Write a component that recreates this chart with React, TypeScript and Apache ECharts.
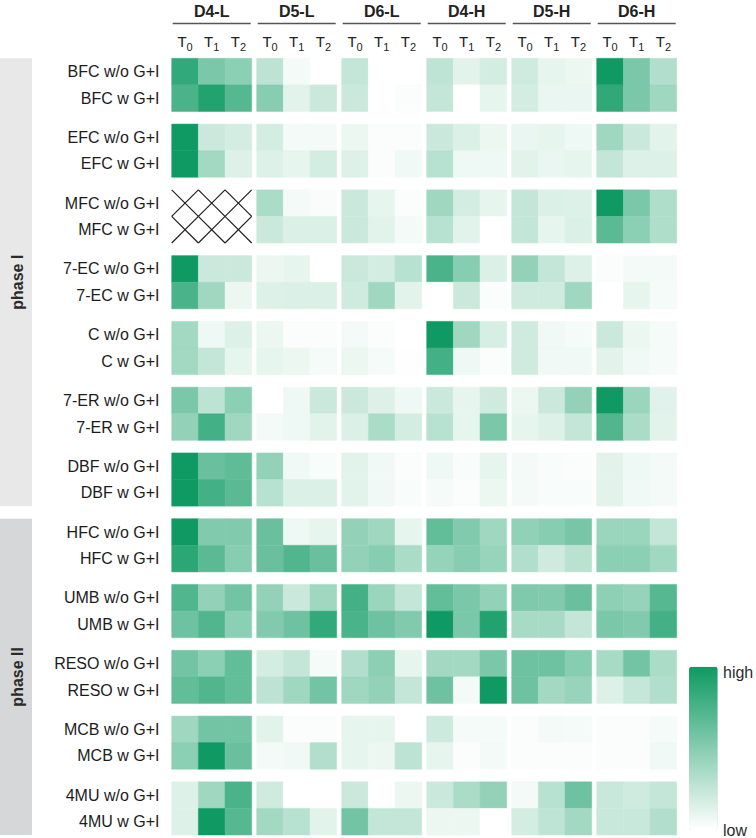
import React, { useEffect, useRef } from 'react';
import * as echarts from 'echarts';

// ---------- data ----------
const compounds = ['BFC', 'EFC', 'MFC', '7-EC', 'C', '7-ER', 'DBF', 'HFC', 'UMB', 'RESO', 'MCB', '4MU'];
const conditions = ['w/o G+I', 'w G+I'];
const phases = ['phase I', 'phase II'];
const phaseGroupCounts = [7, 5];
const periods = ['D4-L', 'D5-L', 'D6-L', 'D4-H', 'D5-H', 'D6-H'];
const timePoints = ['0', '1', '2'];
const legendLabels = ['high', 'low'];

// relative intensity (0 = low, 100 = high); rows: [w/o G+I, w G+I]
// columns: D4-L T0..T2, D5-L, D6-L, D4-H, D5-H, D6-H ; null = not measured
const BFC = [
  [85, 55, 48, 28, 5, 0, 25, 0, 0, 27, 12, 18, 20, 10, 8, 100, 55, 32],
  [75, 92, 70, 50, 12, 22, 22, 0, 2, 25, 0, 10, 18, 9, 9, 86, 55, 40],
];
const EFC = [
  [100, 22, 18, 18, 5, 5, 8, 2, 2, 22, 15, 8, 9, 10, 7, 40, 22, 12],
  [100, 38, 14, 14, 10, 18, 14, 2, 6, 30, 7, 7, 12, 9, 10, 25, 14, 14],
];
const MFC = [
  [null, null, null, 35, 5, 3, 22, 10, 2, 40, 18, 10, 25, 15, 14, 100, 55, 33],
  [null, null, null, 22, 15, 15, 22, 12, 5, 30, 12, 0, 25, 10, 15, 68, 48, 33],
];
const EC7 = [
  [100, 22, 22, 8, 10, 0, 22, 18, 30, 75, 50, 15, 45, 25, 14, 2, 5, 5],
  [75, 40, 8, 14, 15, 15, 20, 40, 12, 0, 22, 2, 20, 20, 40, 0, 10, 4],
];
const C = [
  [38, 7, 14, 8, 2, 2, 5, 2, 0, 100, 40, 17, 20, 6, 4, 22, 8, 4],
  [38, 25, 10, 10, 8, 4, 8, 4, 1, 78, 7, 2, 20, 6, 6, 12, 6, 4],
];
const ER7 = [
  [55, 28, 48, 0, 7, 22, 22, 14, 7, 22, 10, 20, 8, 22, 45, 100, 42, 13],
  [45, 78, 40, 5, 7, 12, 15, 35, 18, 30, 10, 55, 10, 14, 25, 72, 35, 12],
];
const DBF = [
  [100, 62, 66, 45, 6, 3, 12, 6, 2, 7, 3, 10, 5, 3, 2, 12, 7, 5],
  [100, 78, 68, 30, 15, 15, 12, 6, 3, 4, 2, 8, 5, 3, 3, 12, 6, 5],
];
const HFC = [
  [100, 52, 52, 62, 7, 10, 45, 40, 10, 65, 52, 40, 46, 50, 56, 42, 42, 25],
  [88, 68, 50, 62, 72, 62, 45, 50, 35, 44, 50, 43, 32, 20, 29, 48, 48, 39],
];
const UMB = [
  [72, 45, 58, 45, 22, 40, 78, 42, 25, 65, 55, 45, 53, 52, 62, 47, 44, 70],
  [60, 72, 48, 52, 60, 85, 75, 60, 52, 100, 55, 92, 36, 36, 25, 55, 52, 78],
];
const RESO = [
  [58, 48, 65, 18, 25, 4, 32, 48, 10, 38, 38, 55, 60, 60, 50, 36, 58, 35],
  [65, 72, 65, 28, 40, 58, 40, 45, 25, 60, 5, 100, 60, 38, 43, 14, 24, 32],
];
const MCB = [
  [40, 58, 58, 12, 2, 2, 10, 10, 0, 21, 4, 4, 2, 5, 4, 2, 2, 4],
  [48, 100, 62, 5, 6, 32, 10, 8, 28, 10, 2, 5, 2, 2, 2, 2, 2, 6],
];
const MU4 = [
  [14, 40, 75, 20, 0, 0, 22, 0, 8, 22, 35, 45, 5, 30, 60, 23, 20, 25],
  [14, 100, 70, 38, 30, 12, 58, 25, 25, 8, 8, 0, 18, 27, 38, 23, 23, 32],
];
const compoundValues = [BFC, EFC, MFC, EC7, C, ER7, DBF, HFC, UMB, RESO, MCB, MU4];

// ---------- layout ----------
const FONT = '"Liberation Sans", Arial, Helvetica, sans-serif';
const GRID = { left: 171.7, top: 58.3, width: 505, height: 776.7 };
const GAP_X = 0.1875; // gap between period blocks, in cell widths
const GAP_Y = 0.4737; // gap between compound blocks, in cell heights
const NCOL = periods.length * timePoints.length;
const NROW = compounds.length * conditions.length;
const X_MAX = NCOL + (periods.length - 1) * GAP_X;
const Y_MAX = NROW + (compounds.length - 1) * GAP_Y;
const UX = GRID.width / X_MAX;
const UY = GRID.height / Y_MAX;
const colStart = (c: number) => Math.floor(c / 3) * (3 + GAP_X) + (c % 3);
const rowStart = (r: number) => Math.floor(r / 2) * (2 + GAP_Y) + (r % 2);
const px = (u: number) => GRID.left + u * UX;
const py = (u: number) => GRID.top + u * UY;

function buildOption() {
  const cells: number[][] = [];
  const missing: number[][] = [];
  compoundValues.forEach((rows, g) => {
    rows.forEach((vals, k) => {
      const r = g * 2 + k;
      vals.forEach((v, c) => {
        if (v === null) missing.push([c, r]);
        else cells.push([c, r, v as number]);
      });
    });
  });

  const graphics: any[] = [];

  // phase bands
  let gStart = 0;
  phases.forEach((name, i) => {
    const gEnd = gStart + phaseGroupCounts[i];
    const y0 = py(rowStart(gStart * 2));
    const y1 = py(rowStart(gEnd * 2 - 1) + 1);
    graphics.push({
      type: 'rect',
      shape: { x: 0, y: y0, width: 32, height: y1 - y0 },
      style: { fill: i === 0 ? '#e8e8e8' : '#d5d7d9' },
      silent: true,
    });
    graphics.push({
      type: 'text',
      x: 17.5,
      y: (y0 + y1) / 2,
      rotation: Math.PI / 2,
      style: {
        text: name,
        fontSize: 16,
        fontWeight: 'bold',
        fontFamily: FONT,
        fill: '#2b2b2b',
        align: 'center',
        verticalAlign: 'middle',
      },
      silent: true,
    });
    gStart = gEnd;
  });

  // row labels
  compounds.forEach((cmp, g) => {
    conditions.forEach((cond, k) => {
      const r = g * 2 + k;
      graphics.push({
        type: 'text',
        x: 159.5,
        y: py(rowStart(r) + 0.5),
        style: {
          text: `${cmp} ${cond}`,
          fontSize: 16,
          fontFamily: FONT,
          fill: '#1c1c1c',
          align: 'right',
          verticalAlign: 'middle',
        },
        silent: true,
      });
    });
  });

  // period headers with underline
  periods.forEach((p, g) => {
    const x0 = px(colStart(g * 3));
    const x1 = px(colStart(g * 3) + 3);
    graphics.push({
      type: 'text',
      x: (x0 + x1) / 2,
      y: 11.7,
      style: {
        text: p,
        fontSize: 16,
        fontWeight: 'bold',
        fontFamily: FONT,
        fill: '#222',
        align: 'center',
        verticalAlign: 'middle',
      },
      silent: true,
    });
    graphics.push({
      type: 'line',
      shape: { x1: x0 + 1, y1: 23.5, x2: x1 - 1, y2: 23.5 },
      style: { stroke: '#555', lineWidth: 1.3 },
      silent: true,
    });
  });

  // time point labels T0 T1 T2
  for (let c = 0; c < NCOL; c++) {
    graphics.push({
      type: 'text',
      x: px(colStart(c) + 0.5),
      y: 41.7,
      style: {
        text: `{t|T}{s|${timePoints[c % 3]}}`,
        fontFamily: FONT,
        fill: '#222',
        align: 'center',
        verticalAlign: 'middle',
        rich: {
          t: { fontSize: 15, fontFamily: FONT, fill: '#222', lineHeight: 21, verticalAlign: 'middle' },
          s: { fontSize: 11, fontFamily: FONT, fill: '#222', lineHeight: 11, verticalAlign: 'bottom' },
        },
      },
      silent: true,
    });
  }

  // legend labels
  graphics.push({
    type: 'text',
    x: 723,
    y: 672,
    style: { text: legendLabels[0], fontSize: 16, fontFamily: FONT, fill: '#2b2b2b', align: 'left', verticalAlign: 'middle' },
    silent: true,
  });
  graphics.push({
    type: 'text',
    x: 723,
    y: 830,
    style: { text: legendLabels[1], fontSize: 16, fontFamily: FONT, fill: '#2b2b2b', align: 'left', verticalAlign: 'middle' },
    silent: true,
  });

  return {
    animation: false,
    backgroundColor: '#ffffff',
    grid: { left: GRID.left, top: GRID.top, width: GRID.width, height: GRID.height, containLabel: false },
    xAxis: { type: 'value', min: 0, max: X_MAX, show: false },
    yAxis: { type: 'value', min: 0, max: Y_MAX, inverse: true, show: false },
    visualMap: {
      type: 'continuous',
      min: 0,
      max: 100,
      dimension: 2,
      seriesIndex: 0,
      calculable: false,
      orient: 'vertical',
      left: 689,
      top: 666.7,
      padding: 0,
      itemWidth: 28.7,
      itemHeight: 163.3,
      inRange: { color: ['#ffffff', '#0e9a62'] },
      textStyle: { color: 'transparent' },
    },
    graphic: { elements: graphics },
    series: [
      {
        type: 'custom',
        name: 'intensity',
        data: cells,
        encode: { x: 0, y: 1 },
        renderItem: (_params: any, api: any) => {
          const c = api.value(0) as number;
          const r = api.value(1) as number;
          const a = api.coord([colStart(c), rowStart(r)]);
          const b = api.coord([colStart(c) + 1, rowStart(r) + 1]);
          const color = api.visual('color');
          return {
            type: 'rect',
            shape: { x: a[0], y: a[1], width: b[0] - a[0], height: b[1] - a[1] },
            style: { fill: color, stroke: color, lineWidth: 0.5 },
          };
        },
      },
      {
        type: 'custom',
        name: 'not measured',
        data: missing,
        encode: { x: 0, y: 1 },
        renderItem: (_params: any, api: any) => {
          const c = api.value(0) as number;
          const r = api.value(1) as number;
          const a = api.coord([colStart(c), rowStart(r)]);
          const b = api.coord([colStart(c) + 1, rowStart(r) + 1]);
          const st = { stroke: '#1e1e1e', lineWidth: 1.2 };
          return {
            type: 'group',
            children: [
              { type: 'line', shape: { x1: a[0], y1: a[1], x2: b[0], y2: b[1] }, style: st },
              { type: 'line', shape: { x1: b[0], y1: a[1], x2: a[0], y2: b[1] }, style: st },
            ],
          };
        },
      },
    ],
  };
}

export default function App() {
  const ref = useRef<HTMLDivElement>(null);
  useEffect(() => {
    if (!ref.current) return;
    const chart = echarts.init(ref.current, undefined, { renderer: 'svg' });
    chart.setOption(buildOption() as any);
    return () => chart.dispose();
  }, []);
  return (
    <div
      ref={ref}
      style={{ position: 'absolute', left: 0, top: 0, width: 756, height: 838, background: '#fff' }}
    />
  );
}
